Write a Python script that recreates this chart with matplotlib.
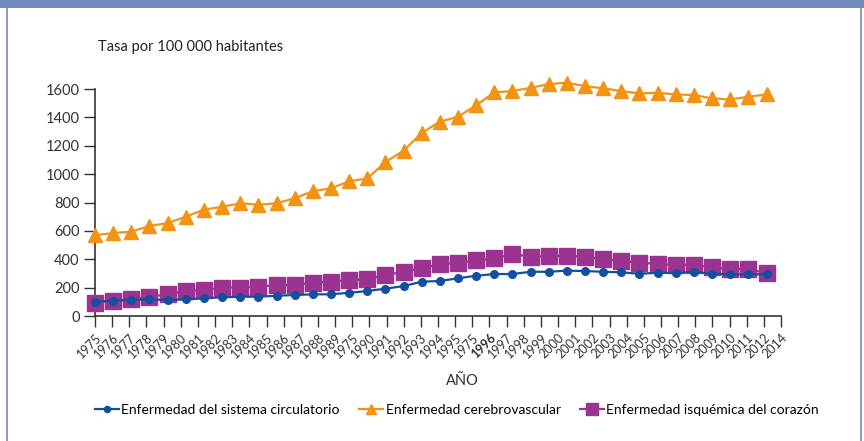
import numpy as np
import matplotlib
matplotlib.use("Agg")
import matplotlib.pyplot as plt
from matplotlib.patches import Rectangle
from matplotlib.lines import Line2D

plt.rcParams['font.family'] = ['DejaVu Sans Condensed', 'Liberation Sans Narrow',
                               'Lato', 'DejaVu Sans']

# 1975 - 2012, tasa por 100 000 habitantes
years = list(range(1975, 2013))
circulatorio = [101, 108, 113, 117, 113, 117, 125, 132, 136, 136,
                143, 148, 153, 153, 164, 176, 193, 211, 242, 247,
                266, 284, 296, 296, 312, 312, 320, 317, 312, 308,
                298, 305, 303, 312, 298, 294, 294, 294]
cerebrovascular = [570, 585, 595, 635, 655, 700, 750, 770, 795, 785,
                   795, 830, 880, 900, 950, 970, 1085, 1165, 1290, 1370,
                   1405, 1485, 1577, 1586, 1609, 1635, 1645, 1621, 1605, 1586,
                   1570, 1574, 1562, 1558, 1534, 1527, 1546, 1562]
isquemica = [94, 108, 117, 136, 153, 176, 183, 200, 200, 207,
             218, 218, 235, 242, 254, 258, 289, 312, 336, 367,
             374, 392, 406, 437, 418, 423, 425, 418, 402, 388,
             376, 367, 360, 360, 343, 331, 331, 301]

tick_labels = ([str(y) for y in range(1975, 1990)] + ["1975"] +
               [str(y) for y in range(1990, 1996)] + ["1975"] +
               [str(y) for y in range(1996, 2013)] + ["2014"])

blue = "#12509f"
orange = "#f39314"
purple = "#9c3391"
axis_col = "#333333"

fig = plt.figure(figsize=(8.64, 4.41), dpi=100)
ax = fig.add_axes([0.110, 0.2834, 0.794, 0.5146])

x = np.arange(len(years))
ax.plot(x, cerebrovascular, color=orange, lw=1.6, marker="^", ms=9.5,
        label="Enfermedad cerebrovascular", zorder=3, clip_on=False)
ax.plot(x, isquemica, color=purple, lw=1.6, marker="s", ms=11,
        label="Enfermedad isquémica del corazón", zorder=3, clip_on=False)
ax.plot(x, circulatorio, color=blue, lw=1.6, marker="o", ms=5.5,
        label="Enfermedad del sistema circulatorio", zorder=4, clip_on=False)

# the category axis carries more labels than data points
ticks = np.linspace(0, 37.8, len(tick_labels))
ax.set_xlim(0, 37.8)
ax.set_xticks(ticks)
ax.set_xticklabels(tick_labels, rotation=45, ha="right",
                   rotation_mode="anchor", fontsize=9, color="#333333")
for lab in ax.get_xticklabels():
    if lab.get_text() == "1996":
        lab.set_fontweight("bold")

ax.set_ylim(0, 1600)
ax.set_yticks(range(0, 1601, 200))
ax.tick_params(axis="y", labelsize=10.5, length=8, width=1, color=axis_col,
               labelcolor="#333333", pad=3)
ax.tick_params(axis="x", length=8, width=1, color=axis_col, pad=3)

for s in ("top", "right"):
    ax.spines[s].set_visible(False)
for s in ("left", "bottom"):
    ax.spines[s].set_color(axis_col)
    ax.spines[s].set_linewidth(1.2)

fig.text(98 / 864, 1 - 47 / 441, "Tasa por 100 000 habitantes",
         fontsize=10.5, color="#222222", va="center", ha="left")
fig.text(462 / 864, 1 - 381 / 441, "AÑO", fontsize=10.5, color="#333333",
         ha="center", va="center")

handles, labels = ax.get_legend_handles_labels()
order = [2, 0, 1]
fig.legend([handles[i] for i in order], [labels[i] for i in order],
           loc="center", bbox_to_anchor=(457 / 864, 1 - 410 / 441), ncol=3,
           frameon=False, fontsize=10, handlelength=1.7,
           handletextpad=0.2, columnspacing=1.4, markerscale=0.8)

# panel frame and header band
fig.add_artist(Rectangle((0, 1 - 8 / 441), 1, 8 / 441,
                         transform=fig.transFigure, color="#7189bd", lw=0))
fig.add_artist(Line2D([7 / 864, 7 / 864], [0, 1], transform=fig.transFigure,
                      color="#7189bd", lw=1.2))
fig.add_artist(Line2D([861 / 864, 861 / 864], [0, 1], transform=fig.transFigure,
                      color="#7189bd", lw=1.2))

fig.savefig("out.png", dpi=100)
